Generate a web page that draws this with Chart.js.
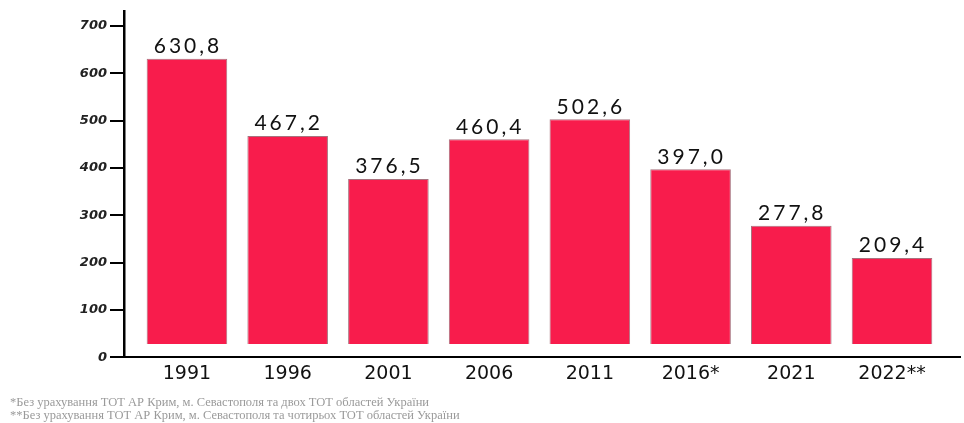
<!DOCTYPE html>
<html>
<head>
<meta charset="utf-8">
<script src="https://cdn.jsdelivr.net/npm/chart.js@4"></script>
<style>
    body { margin: 0; background: #fff; }
    #wrap { position: relative; width: 964px; height: 423px; }
    .note {
        position: absolute; left: 10px; white-space: nowrap;
        font-family: 'Liberation Serif', serif; font-size: 12.5px; color: #9a9a9a;
    }
</style>
</head>
<body>
<div id="wrap">
    <canvas id="chart" width="964" height="423"></canvas>
    <div class="note" style="top:395px">*Без урахування ТОТ АР Крим, м. Севастополя та двох ТОТ областей України</div>
    <div class="note" style="top:408px">**Без урахування ТОТ АР Крим, м. Севастополя та чотирьох ТОТ областей України</div>
</div>
<script>
const years = ['1991', '1996', '2001', '2006', '2011', '2016*', '2021', '2022**'];
const values = [630.8, 467.2, 376.5, 460.4, 502.6, 397.0, 277.8, 209.4];
const yTicks = [0, 100, 200, 300, 400, 500, 600, 700];

const barColor = '#F81C4C';

// numbers above the bars, comma as decimal mark
const valueLabels = {
    id: 'valueLabels',
    afterDatasetsDraw(chart) {
        const ctx = chart.ctx;
        const meta = chart.getDatasetMeta(0);
        ctx.save();
        ctx.font = '21px Lato';
        ctx.letterSpacing = '3px';
        ctx.fillStyle = '#111';
        ctx.textAlign = 'center';
        ctx.textBaseline = 'bottom';
        meta.data.forEach((bar, i) => {
            ctx.fillText(values[i].toFixed(1).replace('.', ','), bar.x + 1, bar.y - 2);
        });
        ctx.restore();
    }
};

new Chart(document.getElementById('chart'), {
    type: 'bar',
    data: {
        datasets: [{
            data: values.map((v, i) => ({ x: i, y: v })),
            base: 28,
            backgroundColor: barColor,
            borderColor: 'rgba(110,20,40,0.6)',
            borderWidth: 1,
            barPercentage: 0.8,
            categoryPercentage: 1
        }]
    },
    options: {
        responsive: false,
        animation: false,
        layout: { padding: { left: 0, right: 4, top: 0, bottom: 33 } },
        plugins: { legend: { display: false }, tooltip: { enabled: false } },
        scales: {
            x: {
                type: 'linear',
                offset: false,
                min: -0.625,
                max: 7.675,
                afterBuildTicks: s => { s.ticks = years.map((_, i) => ({ value: i })); },
                grid: { display: false, drawTicks: false },
                border: { display: true, color: '#000', width: 2 },
                ticks: {
                    autoSkip: false,
                    maxRotation: 0,
                    padding: 5,
                    color: '#111',
                    font: { family: 'DejaVu Sans', size: 19 },
                    callback: v => years[v] ?? ''
                }
            },
            y: {
                min: 0,
                max: 732,
                afterBuildTicks: s => { s.ticks = yTicks.map(v => ({ value: v })); },
                afterFit: s => { s.width = 124; },
                grid: { drawOnChartArea: false, color: '#000', lineWidth: 2, tickLength: 14 },
                border: { display: true, color: '#000', width: 2.5 },
                ticks: {
                    padding: 3,
                    color: '#222',
                    font: { family: 'DejaVu Sans', size: 13, weight: 'bold', style: 'italic' }
                }
            }
        }
    },
    plugins: [valueLabels]
});
</script>
</body>
</html>
